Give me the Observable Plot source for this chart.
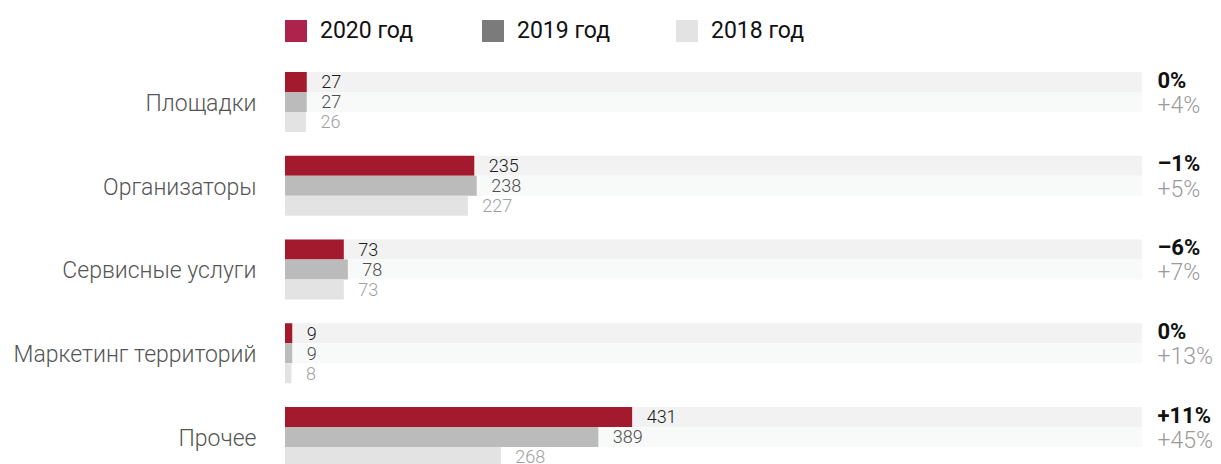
<!DOCTYPE html>
<html>
<head>
<meta charset="utf-8">
<script src="https://cdn.jsdelivr.net/npm/d3@7"></script>
<script src="https://cdn.jsdelivr.net/npm/@observablehq/plot@0.6"></script>
<style>
  html, body { margin: 0; padding: 0; background: #fff; overflow: hidden; }
  body { width: 1221px; height: 464px; font-family: Roboto, "Noto Sans", sans-serif; }
  #legend { position: relative; height: 60px; }
  .item { position: absolute; top: 17px; display: flex; align-items: center; font-size: 23px; color: #111; font-weight: 400; }
  .sw { width: 22px; height: 22px; margin-right: 13px; }
  #chart svg { display: block; overflow: visible; }
</style>
</head>
<body>
<div id="legend"></div>
<div id="chart"></div>
<script>
const categories = ["Площадки", "Организаторы", "Сервисные услуги", "Маркетинг территорий", "Прочее"];
const years = ["2020", "2019", "2018"];
const values2020 = [27, 235, 73, 9, 431];
const values2019 = [27, 238, 78, 9, 389];
const values2018 = [26, 227, 73, 8, 268];
const change2020 = ["0%", "–1%", "–6%", "0%", "+11%"];
const change2019 = ["+4%", "+5%", "+7%", "+13%", "+45%"];
const legendLabels = ["2020 год", "2019 год", "2018 год"];
const legendColors = ["#ad234b", "#7b7b7b", "#e3e3e3"];
const legendLeft = [285, 482, 676];
const barColors = {"2020": "#a3192e", "2019": "#bbbbbb", "2018": "#e3e3e3"};
const labelColors = {"2020": "#1a1a1a", "2019": "#4d4d4d", "2018": "#a0a0a0"};
const bandColors = {"2020": "#f2f2f2", "2019": "#f8f9f9"};
const X_MAX = 1064;

// legend
const legend = document.getElementById("legend");
legendLabels.forEach((l, i) => {
  const d = document.createElement("div");
  d.className = "item";
  d.style.left = legendLeft[i] + "px";
  d.innerHTML = `<span class="sw" style="background:${legendColors[i]}"></span><span>${l}</span>`;
  legend.appendChild(d);
});

const valuesByYear = {"2020": values2020, "2019": values2019, "2018": values2018};
const rows = [];
categories.forEach((c, i) => {
  years.forEach(y => rows.push({cat: c, year: y, value: valuesByYear[y][i]}));
});
const changes = categories.map((c, i) => ({cat: c, c2020: change2020[i], c2019: change2019[i]}));

const marks = [];
// background bands
["2020", "2019"].forEach(y => {
  marks.push(Plot.barX(categories, {x1: 0, x2: X_MAX, y: () => y, fy: d => d, fill: bandColors[y]}));
});
// bars and value labels
years.forEach(y => {
  const data = rows.filter(r => r.year === y);
  marks.push(Plot.barX(data, {x: "value", y: "year", fy: "cat", fill: barColors[y]}));
  marks.push(Plot.text(data, {x: "value", y: "year", fy: "cat", text: d => String(d.value), dx: 14, textAnchor: "start", fill: labelColors[y], fontSize: 18, fontWeight: 300}));
});
// category labels
marks.push(Plot.text(categories, {x: 0, y: () => "2019", fy: d => d, text: d => d, dx: -29, dy: 1, textAnchor: "end", fill: "#555", fontSize: 23, fontWeight: 300}));
// change labels
marks.push(Plot.text(changes, {x: X_MAX, y: () => "2020", fy: "cat", text: "c2020", dx: 15, dy: -2, textAnchor: "start", fill: "#111", fontSize: 22, fontWeight: 700}));
marks.push(Plot.text(changes, {x: X_MAX, y: () => "2019", fy: "cat", text: "c2019", dx: 15, dy: 3, textAnchor: "start", fill: "#9a9a9a", fontSize: 23, fontWeight: 300}));

const chart = Plot.plot({
  width: 1221,
  height: 407,
  marginTop: 12,
  marginBottom: 0,
  marginLeft: 285,
  marginRight: 79,
  style: {fontFamily: "Roboto, 'Noto Sans', sans-serif", background: "transparent"},
  x: {domain: [0, X_MAX], axis: null},
  y: {domain: years, axis: null, padding: 0},
  fy: {domain: categories, axis: null, paddingInner: 23.75 / 83.75, paddingOuter: 0, round: false},
  marks
});
document.getElementById("chart").appendChild(chart);
</script>
</body>
</html>
